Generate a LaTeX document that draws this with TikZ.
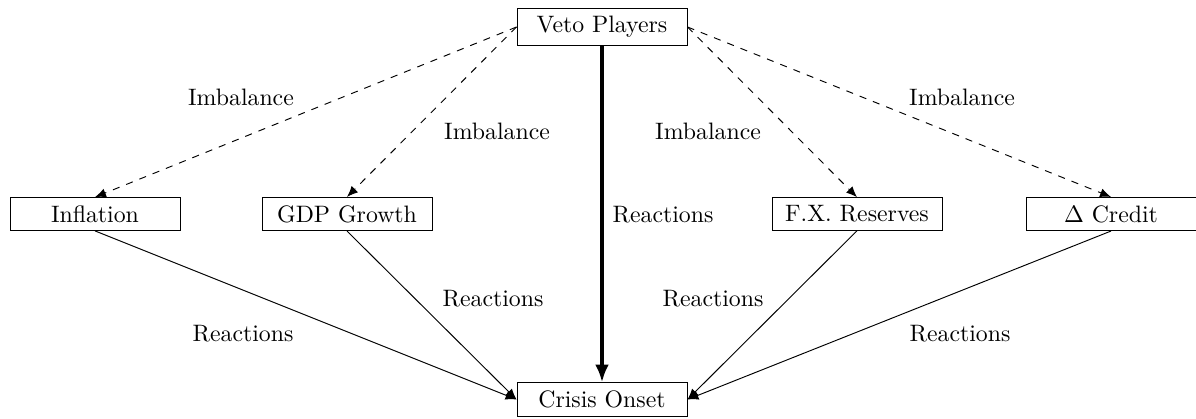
\documentclass[tikz,border=0pt]{standalone}
\usetikzlibrary{arrows.meta}
\begin{document}
\begin{tikzpicture}[x=0.4205pt,y=-0.4205pt,
  box/.style={draw,minimum width=71.5pt,inner sep=3.33pt},
  lbl/.style={inner sep=0pt},
  imb/.style={dashed,-{Latex[length=4.6pt,width=3.8pt]}},
  rea/.style={-{Latex[length=4.6pt,width=3.8pt]}},
  big/.style={line width=1.7pt,-{Latex[length=7.5pt,width=5.8pt]}}]
\useasboundingbox (0,0) rectangle (1196,419);
\node[box] (veto) at (602,27) {Veto Players};
\node[box] (infl) at (95,214) {Inflation};
\node[box] (gdp) at (347,214) {GDP Growth};
\node[box] (fx) at (857,214) {F.X. Reserves};
\node[box] (cred) at (1111,214) {$\Delta$ Credit};
\node[box] (crisis) at (602,399.5) {Crisis Onset};
\node[lbl] (i1) at (241,97) {Imbalance};
\node[lbl] (i2) at (497,131) {Imbalance};
\node[lbl] (i3) at (708,131) {Imbalance};
\node[lbl] (i4) at (962,97) {Imbalance};
\node[lbl] (r0) at (663,215) {Reactions};
\node[lbl] (r1) at (243,334) {Reactions};
\node[lbl] (r2) at (493,299) {Reactions};
\node[lbl] (r3) at (713,299) {Reactions};
\node[lbl] (r4) at (960,334) {Reactions};
\draw[imb] (veto.west) -- (infl.north);
\draw[imb] (veto.west) -- (gdp.north);
\draw[imb] (veto.east) -- (fx.north);
\draw[imb] (veto.east) -- (cred.north);
\draw[big] (veto.south) -- (crisis.north);
\draw[rea] (infl.south) -- (crisis.west);
\draw[rea] (gdp.south) -- (crisis.west);
\draw[rea] (fx.south) -- (crisis.east);
\draw[rea] (cred.south) -- (crisis.east);
\end{tikzpicture}
\end{document}
